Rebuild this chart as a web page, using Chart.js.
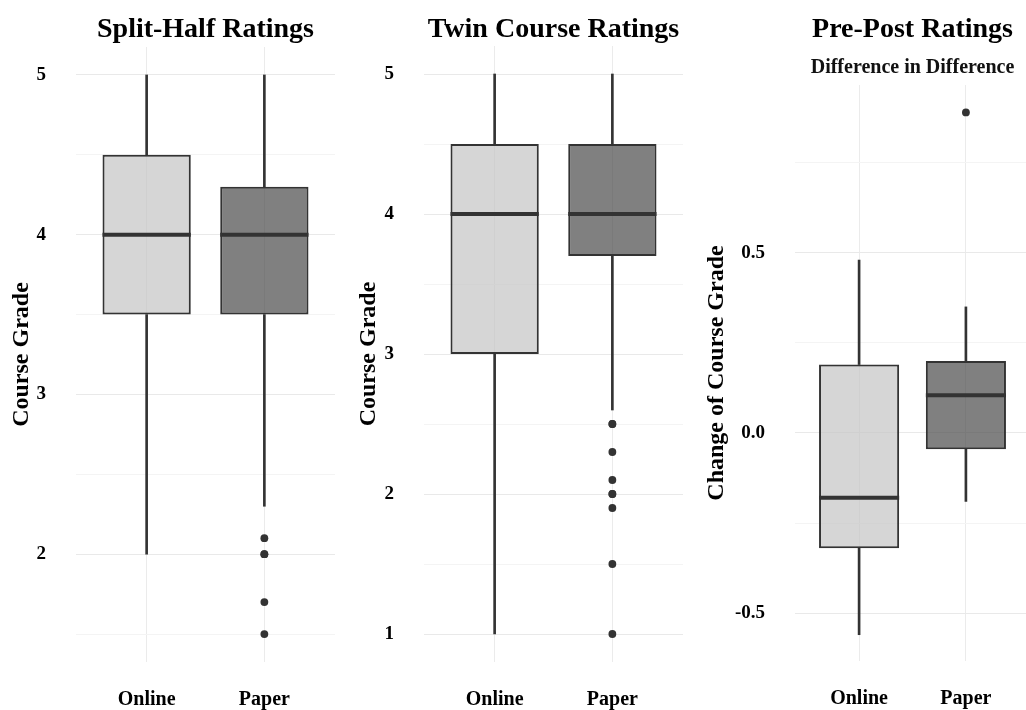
<!DOCTYPE html>
<html>
<head>
<meta charset="utf-8">
<script src="https://cdn.jsdelivr.net/npm/chart.js@4/dist/chart.umd.min.js"></script>
<style>
html, body { margin: 0; padding: 0; background: #fff; }
#wrap { position: relative; width: 1026px; height: 710px; overflow: hidden; }
canvas { position: absolute; top: 0; }
</style>
</head>
<body>
<div id="wrap">
  <canvas id="split_half_box" width="335" height="710" style="left:0px"></canvas>
  <canvas id="twin_course_box" width="343" height="710" style="left:340px"></canvas>
  <canvas id="pre_post_box" width="340" height="710" style="left:690px"></canvas>
</div>
<script>
const groups = ['Online', 'Paper'];

// box stats: [lower whisker, q1, median, q3, upper whisker]
const splitOnline = [2, 3.5, 4, 4.5, 5];
const splitPaper = [2.3, 3.5, 4, 4.3, 5];
const splitPaperOutliers = [2.1, 2.0, 2.0, 1.7, 1.5];
const splitTicks = [1.5, 2, 2.5, 3, 3.5, 4, 4.5, 5];

const twinOnline = [1, 3, 4, 4.5, 5];
const twinPaper = [2.6, 3.7, 4, 4.5, 5];
const twinPaperOutliers = [2.5, 2.5, 2.3, 2.1, 2.0, 2.0, 1.9, 1.5, 1.0];
const twinTicks = [1, 1.5, 2, 2.5, 3, 3.5, 4, 4.5, 5];

const preOnline = [-0.56, -0.32, -0.18, 0.19, 0.48];
const prePaper = [-0.19, -0.045, 0.105, 0.2, 0.35];
const prePaperOutliers = [0.89];
const preTicks = [-0.5, -0.25, 0, 0.25, 0.5, 0.75];

const FONT = 'Liberation Serif';
const INK = '#333333';

// thick median bar across each box
const medianLines = {
  id: 'medianLines',
  afterDatasetsDraw(chart, args, opts) {
    const meta = chart.getDatasetMeta(opts.boxIndex);
    const y = chart.scales.y;
    const ctx = chart.ctx;
    ctx.save();
    ctx.strokeStyle = INK;
    ctx.lineWidth = 4;
    opts.values.forEach((v, i) => {
      const el = meta.data[i];
      const py = y.getPixelForValue(v);
      ctx.beginPath();
      ctx.moveTo(el.x - el.width / 2, py);
      ctx.lineTo(el.x + el.width / 2, py);
      ctx.stroke();
    });
    ctx.restore();
  }
};

function isMajor(v, step){
  const r = v / step;
  return Math.abs(r - Math.round(r)) < 1e-9;
}

function drawBoxPanel(el, p){
  if(!el) return;
  const stats = [p.online, p.paper];

  const data = {
    datasets: [
      {
        type: 'line',
        data: p.outliers.map(v => ({x: 2, y: v})),
        showLine: false,
        pointRadius: 3.9,
        pointBackgroundColor: INK,
        pointBorderWidth: 0,
      },
      {
        type: 'bar',
        data: stats.map((s, i) => ({x: i + 1, y: [s[1], s[3]]})),
        backgroundColor: ['rgba(196, 196, 196, 0.7)', 'rgba(74, 74, 74, 0.7)'],
        borderColor: INK,
        borderWidth: 2,
        borderSkipped: false,
        grouped: false,
        categoryPercentage: 1,
        barPercentage: 0.75,
      },
      {
        type: 'bar',
        data: stats.map((s, i) => ({x: i + 1, y: [s[0], s[1]]})),
        backgroundColor: INK,
        borderWidth: 0,
        grouped: false,
        barThickness: 2,
      },
      {
        type: 'bar',
        data: stats.map((s, i) => ({x: i + 1, y: [s[3], s[4]]})),
        backgroundColor: INK,
        borderWidth: 0,
        grouped: false,
        barThickness: 2,
      },
    ]
  };

  const config = {
    type: 'bar',
    data: data,
    plugins: [medianLines],
    options: {
      responsive: false,
      animation: false,
      devicePixelRatio: 1,
      layout: { padding: 0, autoPadding: false },
      scales: {
        x: {
          type: 'linear',
          min: 0.4,
          max: 2.6,
          offset: false,
          afterBuildTicks: s => { s.ticks = [{value: 1}, {value: 2}]; },
          afterFit: s => { s.height = 710 - p.bottom; },
          grid: { offset: false, color: '#ebebeb', drawTicks: false },
          border: { display: false },
          ticks: {
            padding: p.xPad,
            color: '#000',
            font: { family: FONT, size: 20, weight: 'bold' },
            callback: v => groups[Math.round(v) - 1],
          }
        },
        y: {
          type: 'linear',
          min: p.yMin,
          max: p.yMax,
          afterBuildTicks: s => { s.ticks = p.ticks.map(v => ({value: v})); },
          afterFit: s => { s.width = p.left; },
          grid: {
            drawTicks: false,
            color: c => isMajor(c.tick.value, p.majorStep) ? '#e9e9e9' : '#f4f4f4',
          },
          border: { display: false },
          ticks: {
            autoSkip: false,
            padding: 30,
            color: '#000',
            font: { family: FONT, size: 19, weight: 'bold' },
            callback: v => isMajor(v, p.majorStep) ? (p.majorStep < 1 ? v.toFixed(1) : String(v)) : '',
          },
          title: {
            display: true,
            text: p.yTitle,
            color: '#000',
            font: { family: FONT, size: 24, weight: 'bold' },
            padding: { top: p.yTitlePad, bottom: 0 },
          }
        }
      },
      plugins: {
        legend: { display: false },
        tooltip: { enabled: false },
        medianLines: { boxIndex: 1, values: stats.map(s => s[2]) },
        title: {
          display: true,
          text: p.title,
          fullSize: false,
          color: '#000',
          font: { family: FONT, size: 28, weight: 'bold' },
          padding: p.titlePad,
        },
        subtitle: {
          display: !!p.subtitle,
          text: p.subtitle || '',
          fullSize: false,
          color: '#111',
          font: { family: FONT, size: 20, weight: 'bold' },
          padding: p.subtitlePad || 0,
        }
      }
    }
  };

  new Chart(el, config);
}

drawBoxPanel(document.getElementById('split_half_box'), {
  title: 'Split-Half Ratings', titlePad: { top: 13, bottom: 0.4 },
  yTitle: 'Course Grade', yTitlePad: 7,
  online: splitOnline, paper: splitPaper, outliers: splitPaperOutliers,
  ticks: splitTicks, majorStep: 1, yMin: 1.325, yMax: 5.175,
  left: 76, bottom: 662, xPad: 26,
});

drawBoxPanel(document.getElementById('twin_course_box'), {
  title: 'Twin Course Ratings', titlePad: { top: 13, bottom: -0.6 },
  yTitle: 'Course Grade', yTitlePad: 14,
  online: twinOnline, paper: twinPaper, outliers: twinPaperOutliers,
  ticks: twinTicks, majorStep: 1, yMin: 0.8, yMax: 5.2,
  left: 84, bottom: 662, xPad: 26,
});

drawBoxPanel(document.getElementById('pre_post_box'), {
  title: 'Pre-Post Ratings', titlePad: { top: 13, bottom: 0 },
  subtitle: 'Difference in Difference', subtitlePad: { top: 8.9, bottom: 5.5 },
  yTitle: 'Change of Course Grade', yTitlePad: 12.6,
  online: preOnline, paper: prePaper, outliers: prePaperOutliers,
  ticks: preTicks, majorStep: 0.5, yMin: -0.633, yMax: 0.966,
  left: 105, bottom: 661, xPad: 26,
});
</script>
</body>
</html>
